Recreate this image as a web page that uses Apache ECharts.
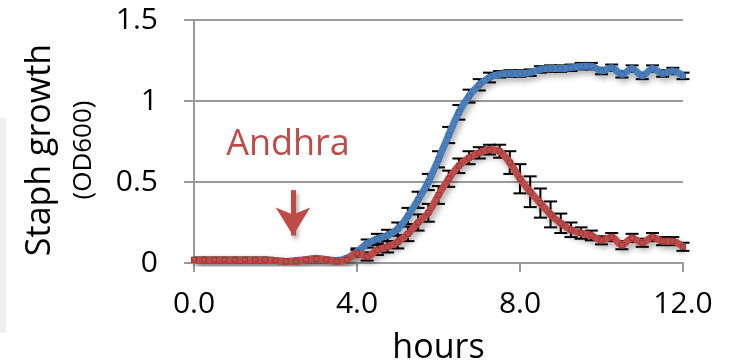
<!DOCTYPE html>
<html>
<head>
<meta charset="utf-8">
<script src="https://cdn.jsdelivr.net/npm/echarts@6/dist/echarts.min.js"></script>
<style>
  html, body { margin: 0; padding: 0; background: #fff; }
  #chart { width: 733px; height: 364px; }
</style>
</head>
<body>
<div id="chart"></div>
<script>
// sampled every 15 min, 0 → 12 h
const hours = [
  0, 0.25, 0.5, 0.75, 1, 1.25, 1.5, 1.75, 2, 2.25, 2.5, 2.75,
  3, 3.25, 3.5, 3.75, 4, 4.25, 4.5, 4.75, 5, 5.25, 5.5, 5.75,
  6, 6.25, 6.5, 6.75, 7, 7.25, 7.5, 7.75, 8, 8.25, 8.5, 8.75,
  9, 9.25, 9.5, 9.75, 10, 10.25, 10.5, 10.75, 11, 11.25, 11.5, 11.75, 12
];
const blueOD = [
  0.02, 0.02, 0.02, 0.02, 0.02, 0.02, 0.02, 0.02, 0.015, 0.01, 0.015, 0.02,
  0.03, 0.02, 0.015, 0.03, 0.07, 0.12, 0.15, 0.17, 0.21, 0.29, 0.39, 0.5,
  0.64, 0.79, 0.93, 1.03, 1.1, 1.145, 1.165, 1.17, 1.17, 1.175, 1.195, 1.2,
  1.2, 1.205, 1.215, 1.215, 1.185, 1.205, 1.165, 1.2, 1.155, 1.2, 1.17, 1.185, 1.155
];
const redOD = [
  0.02, 0.02, 0.02, 0.02, 0.02, 0.02, 0.02, 0.02, 0.015, 0.01, 0.01, 0.02,
  0.025, 0.02, 0.01, 0.02, 0.06, 0.04, 0.08, 0.1, 0.13, 0.18, 0.25, 0.31,
  0.42, 0.52, 0.6, 0.65, 0.68, 0.7, 0.69, 0.62, 0.52, 0.44, 0.37, 0.3,
  0.245, 0.205, 0.185, 0.17, 0.14, 0.16, 0.11, 0.155, 0.125, 0.16, 0.135, 0.135, 0.1
];
const blueErr = [
  0, 0, 0, 0, 0, 0, 0, 0, 0, 0, 0, 0,
  0, 0, 0, 0, 0.02, 0.025, 0.03, 0.035, 0.04, 0.05, 0.05, 0.05,
  0.05, 0.05, 0.045, 0.04, 0.035, 0.03, 0.02, 0.02, 0.02, 0.02, 0.02, 0.02,
  0.02, 0.02, 0.02, 0.02, 0.02, 0.02, 0.02, 0.02, 0.02, 0.02, 0.02, 0.02, 0.02
];
const redErr = [
  0, 0, 0, 0, 0, 0, 0, 0, 0, 0, 0, 0,
  0, 0, 0, 0, 0.02, 0.025, 0.03, 0.035, 0.04, 0.045, 0.05, 0.055,
  0.055, 0.05, 0.045, 0.04, 0.035, 0.03, 0.04, 0.07, 0.09, 0.095, 0.09, 0.08,
  0.06, 0.045, 0.035, 0.03, 0.025, 0.025, 0.025, 0.025, 0.025, 0.025, 0.025, 0.025, 0.025
];
const xTicks = [0, 4, 8, 12];
const yTicks = [0, 0.5, 1, 1.5];

const BLUE = '#4A7EBB';
const RED = '#BE4B48';
const GRAY = '#9a9a9a';
const FONT = 'Open Sans';

const pairs = (vals) => hours.map((t, i) => [t, vals[i]]);
const bars = (vals, errs) => hours
  .map((t, i) => [t, vals[i] - errs[i], vals[i] + errs[i], errs[i]])
  .filter((d) => d[3] > 0);

function renderErr(params, api) {
  const x = api.value(0);
  const lo = api.coord([x, api.value(1)]);
  const hi = api.coord([x, api.value(2)]);
  const w = 6.5;
  const style = { stroke: '#000', lineWidth: 2 };
  return {
    type: 'group',
    children: [
      { type: 'line', shape: { x1: lo[0], y1: lo[1], x2: hi[0], y2: hi[1] }, style },
      { type: 'line', shape: { x1: lo[0] - w, y1: lo[1], x2: lo[0] + w, y2: lo[1] }, style },
      { type: 'line', shape: { x1: hi[0] - w, y1: hi[1], x2: hi[0] + w, y2: hi[1] }, style },
    ],
  };
}

const lineShadow = {
  shadowColor: 'rgba(0,0,0,0.35)',
  shadowBlur: 6,
  shadowOffsetX: 2,
  shadowOffsetY: 4,
};

const chart = echarts.init(document.getElementById('chart'), null, { renderer: 'canvas' });
chart.setOption({
  backgroundColor: '#fff',
  animation: false,
  grid: { left: 194, right: 50, top: 20, bottom: 101, outerBoundsMode: 'none', containLabel: false },
  xAxis: {
    type: 'value',
    min: 0,
    max: 12,
    interval: 4,
    name: 'hours',
    nameLocation: 'middle',
    nameGap: 68,
    nameTextStyle: { color: '#000', fontSize: 34, fontFamily: FONT },
    axisLine: { lineStyle: { color: GRAY, width: 2 } },
    axisTick: { show: true, length: 9, lineStyle: { color: GRAY, width: 2 } },
    axisLabel: {
      color: '#000',
      fontSize: 30,
      fontFamily: FONT,
      margin: 26,
      formatter: (v) => (xTicks.includes(v) ? v.toFixed(1) : ''),
    },
    splitLine: { show: false },
  },
  yAxis: {
    type: 'value',
    min: 0,
    max: 1.5,
    interval: 0.5,
    axisLine: { show: true, lineStyle: { color: GRAY, width: 2 } },
    axisTick: { show: true, length: 10, lineStyle: { color: GRAY, width: 2 } },
    axisLabel: {
      color: '#000',
      fontSize: 30,
      fontFamily: FONT,
      margin: 36,
      formatter: (v) => (yTicks.includes(v) ? String(v) : ''),
    },
    splitLine: { show: true, lineStyle: { color: GRAY, width: 2 } },
  },
  graphic: [
    {
      type: 'rect',
      left: 0,
      top: 118,
      shape: { width: 6, height: 215 },
      style: { fill: '#efefef' },
      silent: true,
    },
    {
      type: 'text',
      x: 40,
      y: 150,
      rotation: Math.PI / 2,
      style: {
        text: 'Staph growth',
        fontSize: 34,
        fontFamily: FONT,
        fill: '#000',
        textAlign: 'center',
        textVerticalAlign: 'middle',
      },
    },
    {
      type: 'text',
      x: 84,
      y: 150,
      rotation: Math.PI / 2,
      style: {
        text: '(OD600)',
        fontSize: 26,
        fontFamily: FONT,
        fill: '#000',
        textAlign: 'center',
        textVerticalAlign: 'middle',
      },
    },
    {
      type: 'text',
      x: 288,
      y: 145,
      style: {
        text: 'Andhra',
        fontSize: 36,
        fontFamily: FONT,
        fill: RED,
        textAlign: 'center',
        textVerticalAlign: 'middle',
      },
    },
  ],
  series: [
    {
      type: 'custom',
      name: 'blueErr',
      renderItem: renderErr,
      data: bars(blueOD, blueErr),
      encode: { x: 0, y: [1, 2] },
      z: 1,
    },
    {
      type: 'custom',
      name: 'redErr',
      renderItem: renderErr,
      data: bars(redOD, redErr),
      encode: { x: 0, y: [1, 2] },
      z: 1,
    },
    {
      type: 'line',
      name: 'blue',
      data: pairs(blueOD),
      smooth: 0.3,
      symbol: 'rect',
      symbolSize: 5,
      showSymbol: true,
      lineStyle: { color: BLUE, width: 7, ...lineShadow },
      itemStyle: { color: BLUE, borderColor: '#3e6ea6', borderWidth: 1 },
      z: 3,
    },
    {
      type: 'line',
      name: 'red',
      data: pairs(redOD),
      smooth: 0.3,
      symbol: 'rect',
      symbolSize: 5,
      showSymbol: true,
      lineStyle: { color: RED, width: 7, ...lineShadow },
      itemStyle: { color: RED, borderColor: '#9a3b39', borderWidth: 1 },
      z: 4,
      markLine: {
        silent: true,
        animation: false,
        symbol: ['none', 'arrow'],
        symbolSize: [26, 28],
        label: { show: false },
        lineStyle: { color: RED, width: 5, type: 'solid', ...lineShadow, shadowBlur: 4, shadowOffsetY: 3 },
        data: [[{ coord: [2.43, 0.45] }, { coord: [2.43, 0.17] }]],
      },
    },
  ],
});
</script>
</body>
</html>
